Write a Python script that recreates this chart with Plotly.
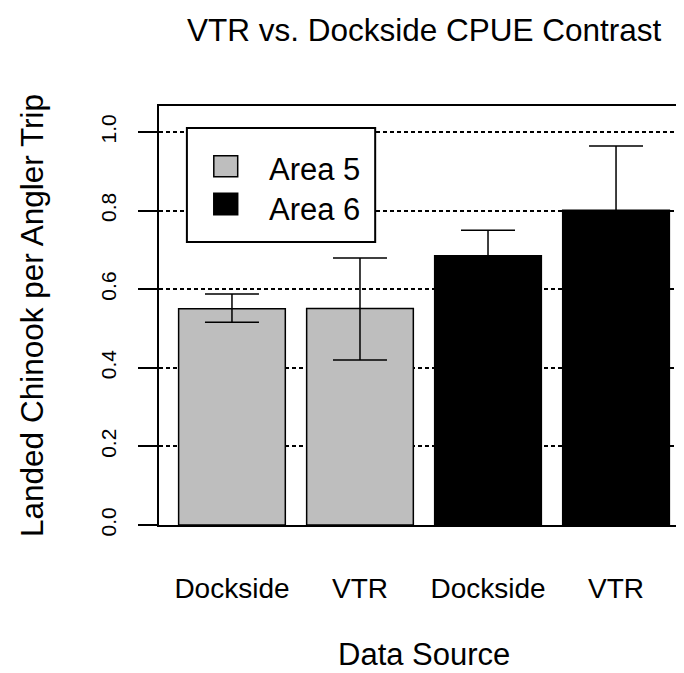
import plotly.graph_objects as go

# data
sources = ["Dockside", "VTR", "Dockside", "VTR"]
areas = ["Area 5", "Area 5", "Area 6", "Area 6"]
cpue = [0.550, 0.551, 0.685, 0.801]
upper = [0.588, 0.679, 0.750, 0.964]
lower = [0.516, 0.420, 0.620, 0.638]
legend_areas = ["Area 5", "Area 6"]
area_fill = {"Area 5": "#bebebe", "Area 6": "#000000"}

FONT = "Liberation Sans, Arial, sans-serif"
W, H = 684, 673
L, R, T, B = 151, 1, 98, 156
PW, PH = W - L - R, H - T - B


def px(x):
    return (x - L) / PW


def py(y):
    return (H - B - y) / PH


xpos = [0.7 + 1.2 * i for i in range(len(sources))]
err_plus = [u - v for u, v in zip(upper, cpue)]
err_minus = [v - lo for v, lo in zip(cpue, lower)]

fig = go.Figure()
fig.add_trace(go.Bar(
    x=xpos,
    y=cpue,
    width=1.0,
    marker=dict(color=[area_fill[a] for a in areas],
                line=dict(color="black", width=1.5)),
    error_y=dict(type="data", symmetric=False, array=err_plus,
                 arrayminus=err_minus, color="black", thickness=1.5, width=27),
    showlegend=False,
))

fig.update_layout(
    width=W, height=H,
    margin=dict(l=L, r=R, t=T, b=B),
    paper_bgcolor="white", plot_bgcolor="white",
    font=dict(family=FONT, color="black"),
    showlegend=False,
    xaxis=dict(
        range=[0.016, 4.984], tickvals=xpos, ticktext=sources,
        ticks="outside", ticklen=1, tickcolor="rgba(0,0,0,0)",
        ticklabelstandoff=36,
        tickfont=dict(size=28), showgrid=False, zeroline=False,
        showline=True, linecolor="black", linewidth=2, mirror=True,
    ),
    yaxis=dict(
        range=[0, 1.066], tickvals=[0, 0.2, 0.4, 0.6, 0.8, 1.0],
        tickformat=".1f", tickangle=-90, tickfont=dict(size=21),
        ticks="outside", ticklen=19, tickwidth=2, tickcolor="black",
        ticklabelstandoff=14,
        showgrid=True, gridcolor="black", gridwidth=1.5, griddash="4px,3px",
        zeroline=False,
        showline=True, linecolor="black", linewidth=2, mirror=True,
    ),
)

annotations = [
    dict(text="VTR vs. Dockside CPUE Contrast", x=0.5, y=py(22),
         xref="paper", yref="paper", xanchor="center", yanchor="middle",
         showarrow=False, font=dict(size=31.5)),
    dict(text="Data Source", x=0.5, y=py(646),
         xref="paper", yref="paper", xanchor="center", yanchor="middle",
         showarrow=False, font=dict(size=31)),
    dict(text="Landed Chinook per Angler Trip", x=px(23), y=0.5, textangle=-90,
         xref="paper", yref="paper", xanchor="center", yanchor="middle",
         showarrow=False, font=dict(size=31.5)),
]

# legend box drawn by hand so the keys can be large squares
shapes = [dict(type="rect", xref="paper", yref="paper",
               x0=px(179), x1=px(368), y0=py(234), y1=py(120),
               line=dict(color="black", width=2), fillcolor="white", layer="above")]
key_rows = [(147.7, 168.7, 162), (185.3, 206.7, 201)]
for name, (y0, y1, yt) in zip(legend_areas, key_rows):
    shapes.append(dict(type="rect", xref="paper", yref="paper",
                       x0=px(206), x1=px(230), y0=py(y1), y1=py(y0),
                       line=dict(color="black", width=1.5),
                       fillcolor=area_fill[name], layer="above"))
    annotations.append(dict(text=name, x=px(259), y=py(yt),
                            xref="paper", yref="paper", xanchor="left",
                            yanchor="middle", showarrow=False,
                            font=dict(size=31)))

fig.update_layout(shapes=shapes, annotations=annotations)
fig.write_html("out.html")
